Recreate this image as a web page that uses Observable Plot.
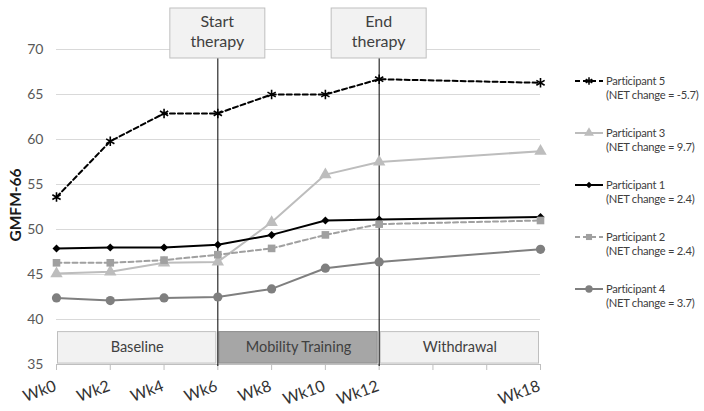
<!DOCTYPE html>
<html>
<head>
<meta charset="utf-8">
<script src="https://cdn.jsdelivr.net/npm/d3@7"></script>
<script src="https://cdn.jsdelivr.net/npm/@observablehq/plot@0.6"></script>
<style>
  html, body { margin: 0; padding: 0; background: #fff; }
  #chart svg { font-family: Lato, "Open Sans", sans-serif; }
</style>
</head>
<body>
<div id="chart"></div>
<script>
// ---- data ----
const weeks = [0, 2, 4, 6, 8, 10, 12, 18];
const participants = ["Participant 5", "Participant 3", "Participant 1", "Participant 2", "Participant 4"];
const netChanges = ["-5.7", "9.7", "2.4", "2.4", "3.7"];
const p5 = [53.6, 59.8, 62.9, 62.9, 65.0, 65.0, 66.7, 66.3];
const p3 = [45.1, 45.3, 46.3, 46.4, 50.8, 56.1, 57.5, 58.7];
const p1 = [47.9, 48.0, 48.0, 48.3, 49.4, 51.0, 51.1, 51.4];
const p2 = [46.3, 46.3, 46.6, 47.2, 47.9, 49.4, 50.6, 51.0];
const p4 = [42.4, 42.1, 42.4, 42.5, 43.4, 45.7, 46.4, 47.8];
const yTicks = [35, 40, 45, 50, 55, 60, 65, 70];
const tickWeeks = [0, 2, 4, 6, 8, 10, 12, 14, 16, 18];
const labelWeeks = [0, 2, 4, 6, 8, 10, 12, 18];
const phaseNames = ["Baseline", "Mobility Training", "Withdrawal"];
const phaseStart = [0, 6, 12];
const phaseEnd = [6, 12, 18];
const eventNames = ["Start\ntherapy", "End\ntherapy"];
const eventWeeks = [6, 12];

// ---- styles ----
const seriesValues = [p5, p3, p1, p2, p4];
const colors = ["#000000", "#bdbdbd", "#000000", "#a0a0a0", "#7f7f7f"];
const dashes = ["5,3", null, null, "5,3", null];
const symbols = ["asterisk", "triangle", "diamond2", "square", "circle"];
const d3symbols = [d3.symbolAsterisk, d3.symbolTriangle, d3.symbolDiamond2, d3.symbolSquare, d3.symbolCircle];
const radii = [4.5, 4.6, 3.6, 4.3, 4.6];
const phaseFill = ["#f2f2f2", "#a6a6a6", "#f2f2f2"];
const phaseStroke = ["#bfbfbf", "#8c8c8c", "#bfbfbf"];

const rows = participants.flatMap((p, k) => weeks.map((w, i) => ({p, k, w, v: seriesValues[k][i]})));

const marks = [
  Plot.ruleY(yTicks.filter(d => d > 35), {y: d => d, stroke: "#d9d9d9", strokeWidth: 1}),
  Plot.ruleY([35], {y: d => d, stroke: "#bfbfbf", strokeWidth: 1}),
  Plot.axisX({ticks: tickWeeks, tickSize: 6, tickFormat: () => "", stroke: "#bfbfbf", label: null}),
  Plot.text(labelWeeks, {x: d => d, y: 35, text: d => "Wk" + d, rotate: -20, textAnchor: "end", dy: 21, dx: -1, fontSize: 16, fill: "#333333"}),
  Plot.text(yTicks, {x: 0, y: d => d, text: d => String(d), textAnchor: "end", dx: -13, fontSize: 14, fill: "#595959"}),
  Plot.rect(phaseNames.map((n, i) => i), {
    x1: i => phaseStart[i], x2: i => phaseEnd[i], y1: 35.1, y2: 38.6,
    fill: i => phaseFill[i], stroke: i => phaseStroke[i], insetLeft: 1.5, insetRight: 1.5
  }),
  Plot.text(phaseNames.map((n, i) => i), {
    x: i => (phaseStart[i] + phaseEnd[i]) / 2, y: 36.85, text: i => phaseNames[i],
    fontSize: 14.5, fill: "#404040"
  }),
  Plot.ruleX(eventWeeks, {x: d => d, stroke: "#000", strokeWidth: 1, insetTop: 9, insetBottom: -2})
];

participants.forEach((p, k) => {
  const data = rows.filter(r => r.k === k);
  marks.push(Plot.line(data, {x: "w", y: "v", stroke: colors[k], strokeWidth: 2, strokeDasharray: dashes[k]}));
});
participants.forEach((p, k) => {
  const data = rows.filter(r => r.k === k);
  const stroked = symbols[k] === "asterisk";
  marks.push(Plot.dot(data, {
    x: "w", y: "v", symbol: symbols[k], r: radii[k],
    fill: stroked ? "none" : colors[k], stroke: stroked ? colors[k] : "none", strokeWidth: stroked ? 1.6 : 0
  }));
});

const chart = Plot.plot({
  width: 704, height: 411,
  marginLeft: 56, marginRight: 164, marginTop: 49, marginBottom: 47,
  x: {domain: [0, 18], axis: null},
  y: {domain: [35, 70], axis: null},
  style: {background: "#fff", overflow: "visible", fontFamily: "Lato, 'Open Sans', sans-serif"},
  marks
});

const svg = d3.select(chart);
const xs = chart.scale("x");

// top annotation boxes
const topG = svg.append("g").attr("text-anchor", "middle");
eventNames.forEach((name, i) => {
  const cx = xs.apply(eventWeeks[i]);
  topG.append("rect").attr("x", cx - 47.5).attr("y", 8).attr("width", 95).attr("height", 50)
    .attr("fill", "#f2f2f2").attr("stroke", "#bfbfbf");
  const t = topG.append("text").attr("x", cx).attr("text-anchor", "middle")
    .attr("font-size", 16).attr("fill", "#404040");
  name.split("\n").forEach((line, j) => {
    t.append("tspan").attr("x", cx).attr("y", 27 + j * 20).text(line);
  });
});

// y-axis title
svg.append("text").attr("transform", "translate(21,205) rotate(-90)")
  .attr("text-anchor", "middle").attr("font-size", 15.5).attr("font-weight", "bold")
  .attr("fill", "#1a1a1a").text("GMFM-66");

// legend
const lg = svg.append("g").attr("text-anchor", "start");
participants.forEach((p, k) => {
  const y = 81 + k * 52;
  lg.append("line").attr("x1", 575).attr("x2", 603).attr("y1", y).attr("y2", y)
    .attr("stroke", colors[k]).attr("stroke-width", 2).attr("stroke-dasharray", dashes[k]);
  const stroked = symbols[k] === "asterisk";
  lg.append("path").attr("transform", `translate(589,${y})`)
    .attr("d", d3.symbol(d3symbols[k], Math.PI * (radii[k] * 0.8) ** 2)())
    .attr("fill", stroked ? "none" : colors[k]).attr("stroke", stroked ? colors[k] : "none")
    .attr("stroke-width", stroked ? 1.5 : 0);
  lg.append("text").attr("x", 606).attr("y", y + 4).attr("text-anchor", "start")
    .attr("font-size", 11.2).attr("letter-spacing", "-0.25px").attr("fill", "#404040").text(p);
  lg.append("text").attr("x", 606).attr("y", y + 18).attr("text-anchor", "start")
    .attr("font-size", 11.2).attr("letter-spacing", "-0.25px").attr("fill", "#404040")
    .text("(NET change = " + netChanges[k] + ")");
});

document.getElementById("chart").appendChild(chart);
</script>
</body>
</html>
